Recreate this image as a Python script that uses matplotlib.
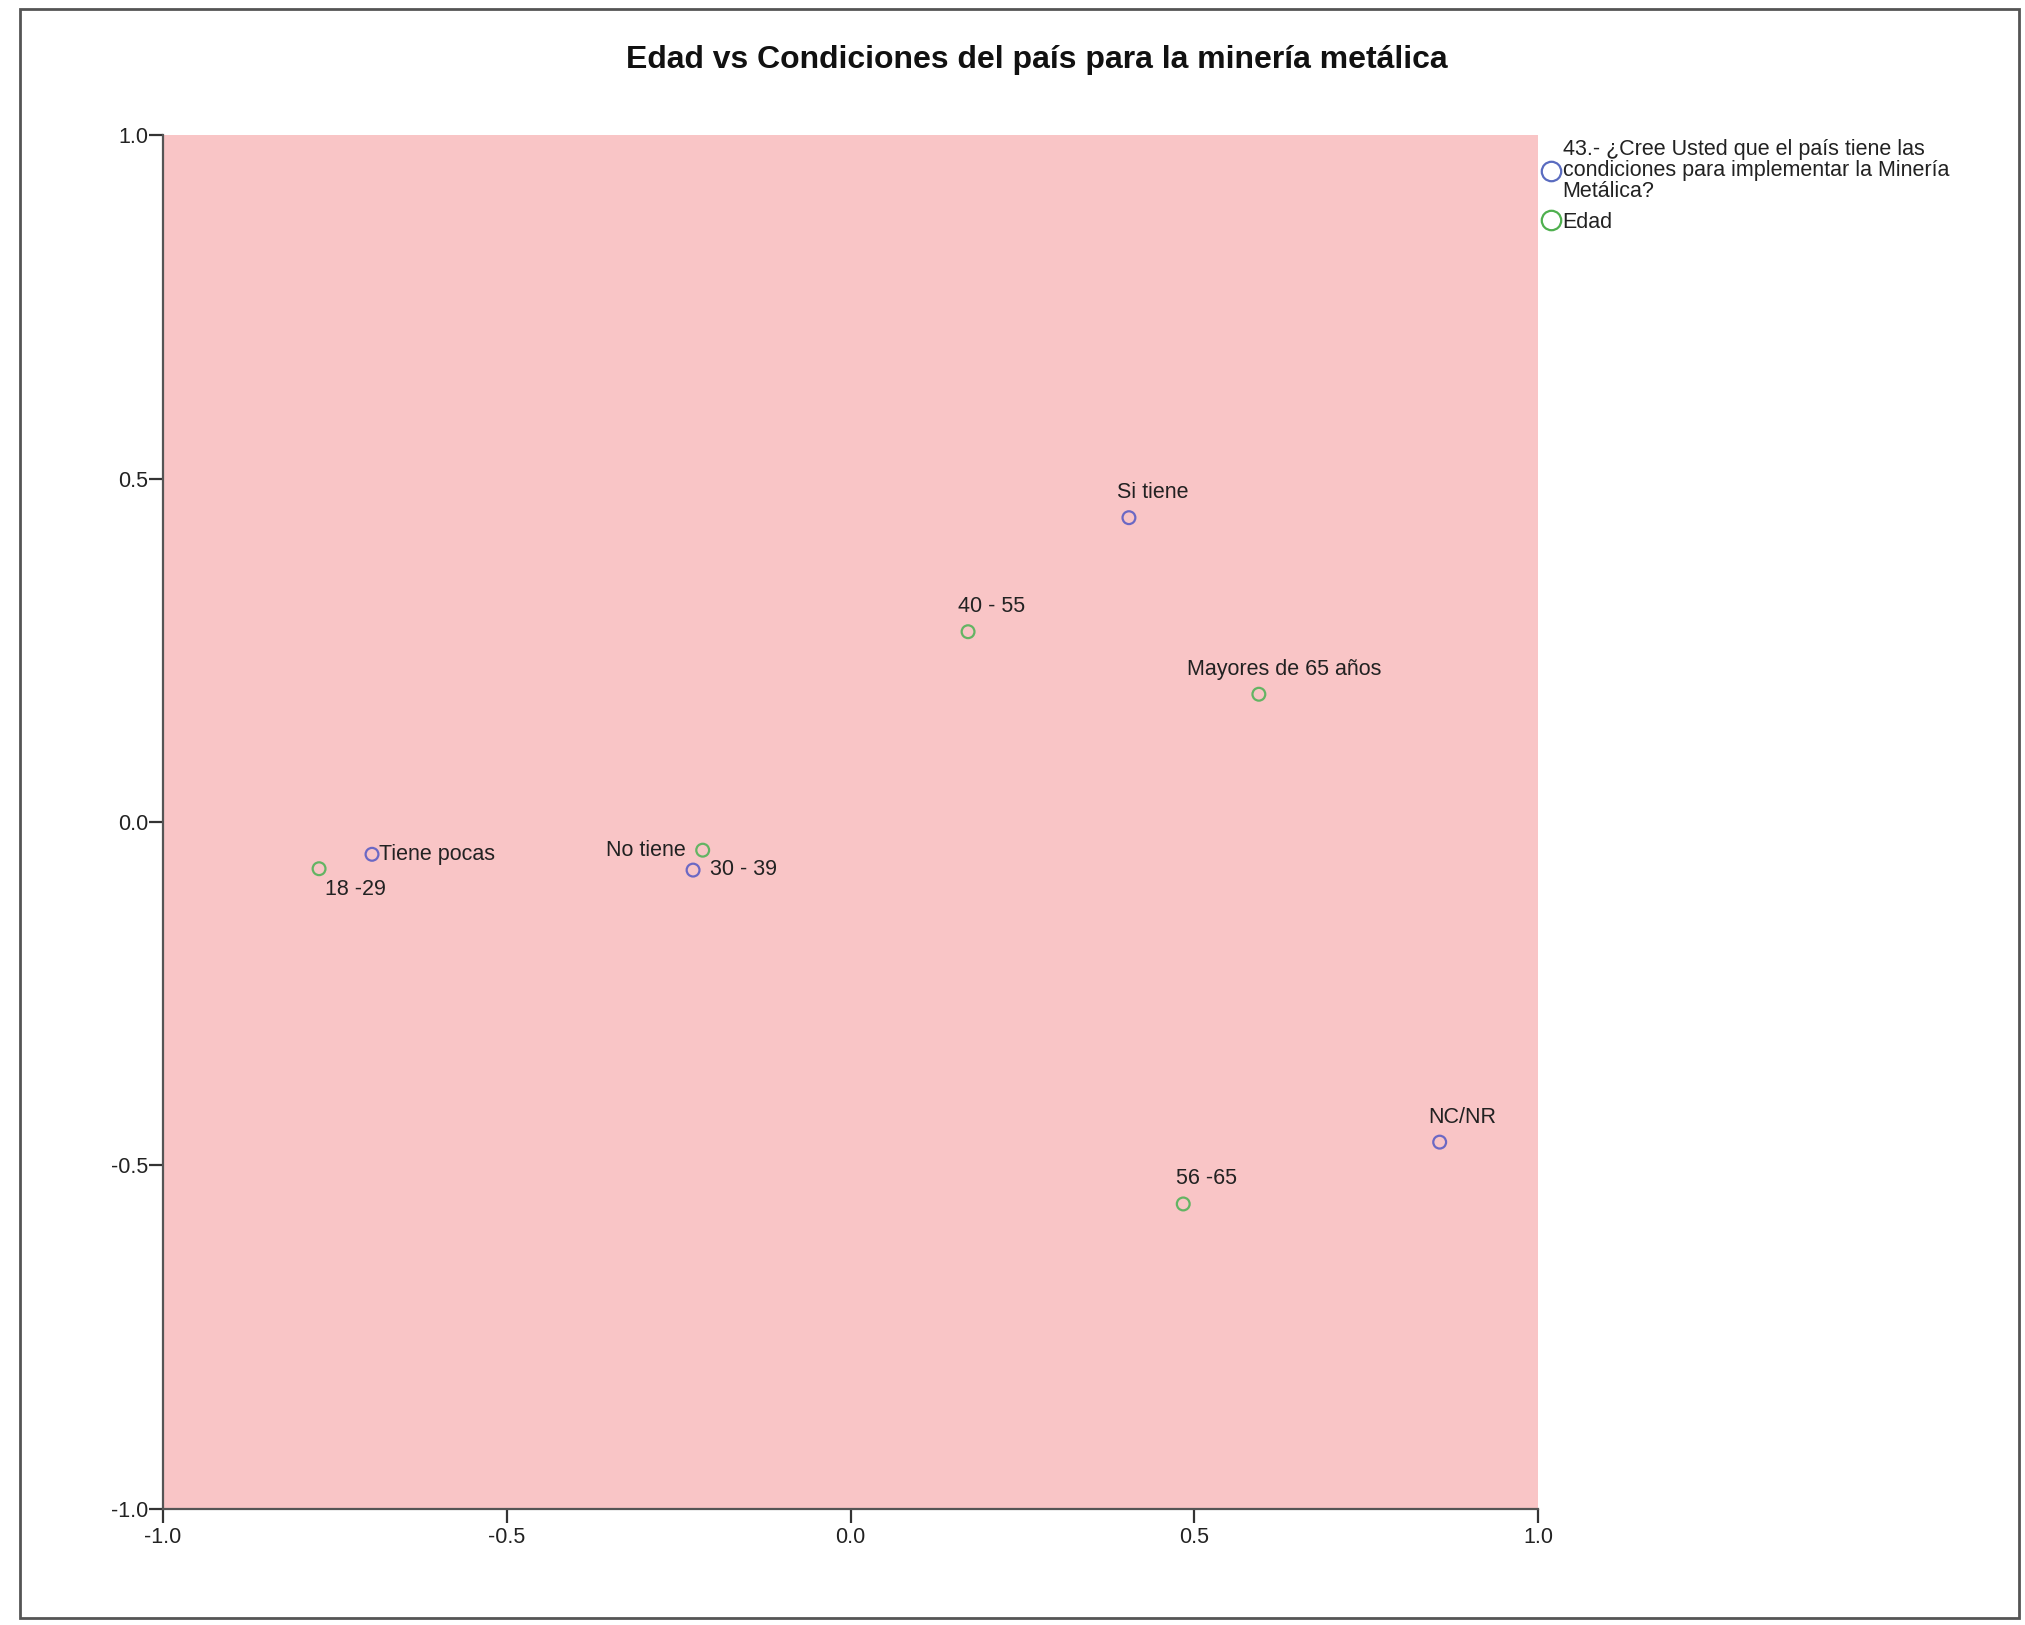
import matplotlib
matplotlib.use('Agg')
import matplotlib.pyplot as plt
from matplotlib.lines import Line2D
from matplotlib.patches import Rectangle

plt.rcParams['font.family'] = ['Liberation Sans', 'DejaVu Sans']
plt.rcParams['axes.unicode_minus'] = False

# categorias y coordenadas (dimension 1, dimension 2)
cond_labels = ['Si tiene', 'Tiene pocas', 'No tiene', 'NC/NR']
cond_x = [0.405, -0.696, -0.229, 0.857]
cond_y = [0.443, -0.047, -0.070, -0.466]

edad_labels = ['18 -29', '30 - 39', '40 - 55', '56 -65', 'Mayores de 65 años']
edad_x = [-0.773, -0.215, 0.171, 0.484, 0.594]
edad_y = [-0.068, -0.041, 0.277, -0.556, 0.186]

legend_labels = ['43.- ¿Cree Usted que el país tiene las\ncondiciones para implementar la Minería\nMetálica?',
                 'Edad']
ticks = [-1.0, -0.5, 0.0, 0.5, 1.0]
tick_labels = ['-1.0', '-0.5', '0.0', '0.5', '1.0']

blue = '#6b68c4'
green = '#63b463'

# posicion de cada etiqueta respecto a su punto (pt), alineacion
label_pos = {
    'Si tiene': (17, 18, 'center'),
    'Tiene pocas': (5, 0, 'left'),
    'No tiene': (-5, 14, 'right'),
    'NC/NR': (16, 18, 'center'),
    '18 -29': (4, -15, 'left'),
    '30 - 39': (5, -14, 'left'),
    '40 - 55': (17, 18, 'center'),
    '56 -65': (17, 18, 'center'),
    'Mayores de 65 años': (18, 18, 'center'),
}

fig = plt.figure(figsize=(20.25, 16.25), dpi=100)
fig.patches.append(Rectangle((20 / 2025, 1 - 1618 / 1625), 1999 / 2025, 1609 / 1625,
                             transform=fig.transFigure, fill=False,
                             edgecolor='#555555', linewidth=2))

ax = fig.add_axes([0.0805, 0.0714, 0.679, 0.8455])
ax.set_facecolor('#f9c5c6')

ax.scatter(cond_x, cond_y, s=85, facecolors='none', edgecolors=blue, linewidths=1.6, zorder=3)
ax.scatter(edad_x, edad_y, s=85, facecolors='none', edgecolors=green, linewidths=1.6, zorder=3)

for labels, xs, ys in [(cond_labels, cond_x, cond_y), (edad_labels, edad_x, edad_y)]:
    for lab, x, y in zip(labels, xs, ys):
        dx, dy, ha = label_pos[lab]
        ax.annotate(lab, (x, y), xytext=(dx, dy), textcoords='offset points',
                    ha=ha, va='center', fontsize=15.5, color='#222222')

ax.set_xlim(-1, 1)
ax.set_ylim(-1, 1)
ax.set_xticks(ticks)
ax.set_xticklabels(tick_labels)
ax.set_yticks(ticks)
ax.set_yticklabels(tick_labels)
ax.tick_params(length=10, width=1.6, color='#333333', labelsize=15.5, labelcolor='#222222')
ax.tick_params(axis='y', pad=0.5)
ax.tick_params(axis='x', pad=3)
for s in ['top', 'right']:
    ax.spines[s].set_visible(False)
for s in ['left', 'bottom']:
    ax.spines[s].set_color('#555555')
    ax.spines[s].set_linewidth(1.6)

handles = [Line2D([], [], marker='o', linestyle='none', markerfacecolor='none',
                  markeredgecolor='#5a6cc0', markersize=14, markeredgewidth=1.6),
           Line2D([], [], marker='o', linestyle='none', markerfacecolor='none',
                  markeredgecolor='#4fb04f', markersize=14, markeredgewidth=1.6)]
leg = ax.legend(handles, legend_labels, loc='upper left', bbox_to_anchor=(1.003, 0.997),
                frameon=False, fontsize=15.5, handlelength=0.8, handletextpad=0.15,
                borderpad=0, borderaxespad=0, labelspacing=0.45)
for t in leg.get_texts():
    t.set_linespacing(1.0)
    t.set_color('#222222')

fig.text(0.512, 0.963, 'Edad vs Condiciones del país para la minería metálica',
         ha='center', va='center', fontsize=23, fontweight='bold', color='#111111')

fig.savefig('out.png', dpi=100)
